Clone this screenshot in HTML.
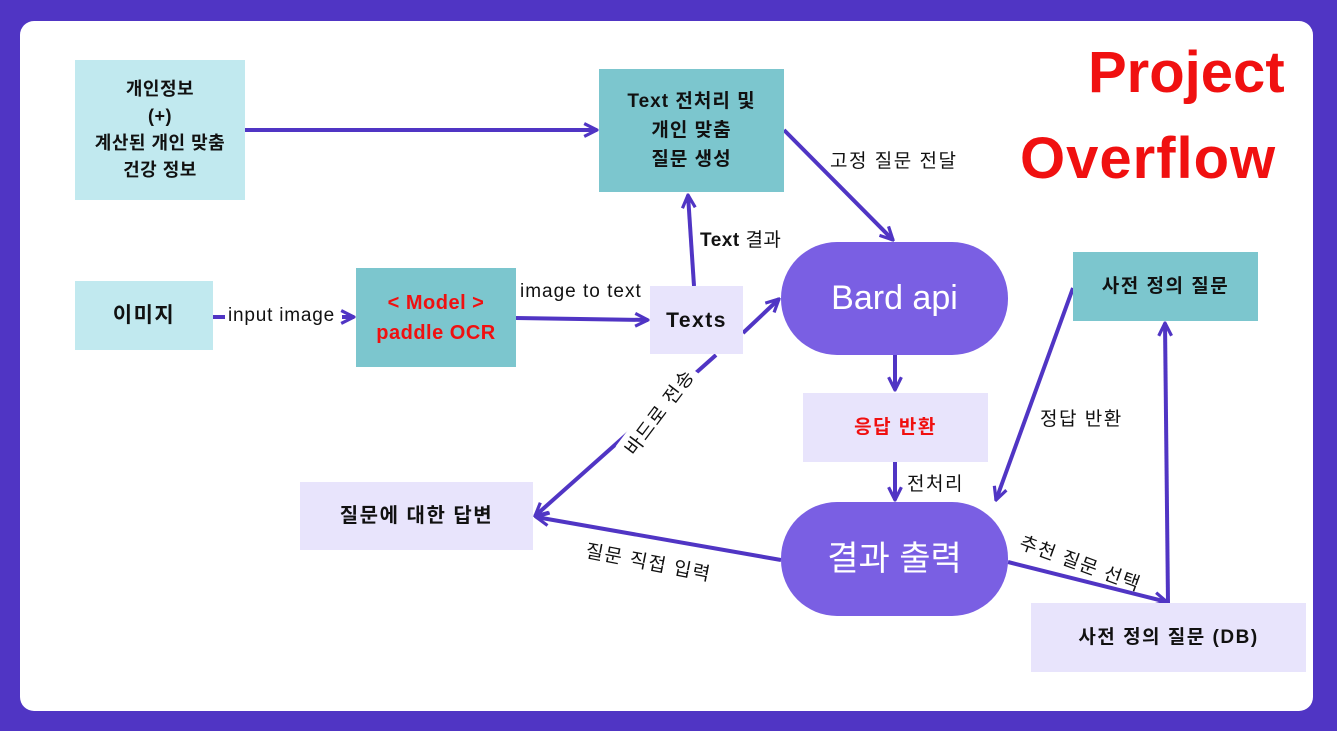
<!DOCTYPE html>
<html><head><meta charset="utf-8"><style>
body{margin:0;width:1337px;height:731px;background:#5035c4;position:relative;overflow:hidden;font-family:"Liberation Sans","Noto Sans CJK KR",sans-serif}
.card{position:absolute;left:20px;top:21px;width:1293px;height:690px;background:#fff;border-radius:14px}
.b{position:absolute;display:flex;align-items:center;justify-content:center;text-align:center;font-weight:bold;font-size:18px;letter-spacing:1.5px;color:#111;line-height:27px}
.lt{background:#c1e9ef}.tl{background:#7cc6ce}.lv{background:#e8e4fc}
.pill{background:#7a5fe3;color:#fff;font-weight:normal;font-size:34px;border-radius:56px;letter-spacing:0}
.t{position:absolute;font-size:19px;letter-spacing:1.5px;color:#111;white-space:nowrap}
.title{position:absolute;color:#f01010;font-weight:bold;font-size:58px;line-height:86px;white-space:nowrap}
</style></head><body>
<div class="card"></div>
<svg style="position:absolute;left:0;top:0" width="1337" height="731">
<defs><marker id="a" viewBox="0 0 10 10" refX="9" refY="5" markerWidth="4" markerHeight="4" orient="auto-start-reverse"><path d="M1,1 L9,5 L1,9" fill="none" stroke="#5035c4" stroke-width="2"/></marker></defs>
<g stroke="#5035c4" stroke-width="4" fill="none">
<line x1="245" y1="130" x2="597" y2="130" marker-end="url(#a)"/>
<line x1="784" y1="130" x2="893" y2="240" marker-end="url(#a)"/>
<line x1="694" y1="286" x2="688" y2="195" marker-end="url(#a)"/>
<line x1="213" y1="317" x2="225" y2="317"/>
<line x1="342" y1="317" x2="354" y2="317" marker-end="url(#a)"/>
<line x1="516" y1="318" x2="648" y2="320" marker-end="url(#a)"/>
<line x1="743" y1="333" x2="779" y2="299" marker-end="url(#a)"/>
<line x1="716" y1="355" x2="535" y2="516" marker-end="url(#a)"/>
<line x1="781" y1="560" x2="536" y2="517" marker-end="url(#a)"/>
<line x1="895" y1="355" x2="895" y2="390" marker-end="url(#a)"/>
<line x1="895" y1="462" x2="895" y2="500" marker-end="url(#a)"/>
<line x1="1073" y1="288" x2="996" y2="500" marker-end="url(#a)"/>
<line x1="1008" y1="562" x2="1167" y2="602" marker-end="url(#a)"/>
<line x1="1168" y1="603" x2="1165" y2="323" marker-end="url(#a)"/>
</g></svg>
<div class="b lt" style="left:75px;top:60px;width:170px;height:140px;letter-spacing:0.5px">개인정보<br>(+)<br>계산된 개인 맞춤<br>건강 정보</div>
<div class="b tl" style="left:599px;top:69px;width:185px;height:123px;font-size:19px;line-height:29px;letter-spacing:1px">Text 전처리 및<br>개인 맞춤<br>질문 생성</div>
<div class="b lt" style="left:75px;top:281px;width:138px;height:69px;font-size:21px">이미지</div>
<div class="b tl" style="left:356px;top:268px;width:160px;height:99px;color:#f01010;font-size:20px;line-height:30px;letter-spacing:0.5px">&lt; Model &gt;<br>paddle OCR</div>
<div class="b lv" style="left:650px;top:286px;width:93px;height:68px;font-size:21px">Texts</div>
<div class="b pill" style="left:781px;top:242px;width:227px;height:113px">Bard api</div>
<div class="b lv" style="left:803px;top:393px;width:185px;height:69px;color:#f01010;font-size:19px">응답 반환</div>
<div class="b pill" style="left:781px;top:502px;width:227px;height:114px">결과 출력</div>
<div class="b tl" style="left:1073px;top:252px;width:185px;height:69px;font-size:19px">사전 정의 질문</div>
<div class="b lv" style="left:1031px;top:603px;width:275px;height:69px;font-size:19px">사전 정의 질문 (DB)</div>
<div class="b lv" style="left:300px;top:482px;width:233px;height:68px;font-size:20px">질문에 대한 답변</div>
<div class="title" style="left:1088px;top:30px">Project</div>
<div class="title" style="left:1020px;top:116px;letter-spacing:1px">Overflow</div>
<div class="t" style="left:830px;top:146px">고정 질문 전달</div>
<div class="t" style="left:700px;top:225px;letter-spacing:0.5px"><b>Text</b> 결과</div>
<div class="t" style="left:520px;top:281px;letter-spacing:1px">image to text</div>
<div class="t" style="left:228px;top:305px;letter-spacing:0.8px">input image</div>
<div class="t" style="left:907px;top:469px">전처리</div>
<div class="t" style="left:1040px;top:404px">정답 반환</div>
<div class="t" style="left:605px;top:398px;transform:rotate(-53deg);background:#fff;padding:0 3px">바드로 전송</div>
<div class="t" style="left:585px;top:548px;transform:rotate(11deg)">질문 직접 입력</div>
<div class="t" style="left:1017px;top:549px;transform:rotate(20deg)">추천 질문 선택</div>
</body></html>
